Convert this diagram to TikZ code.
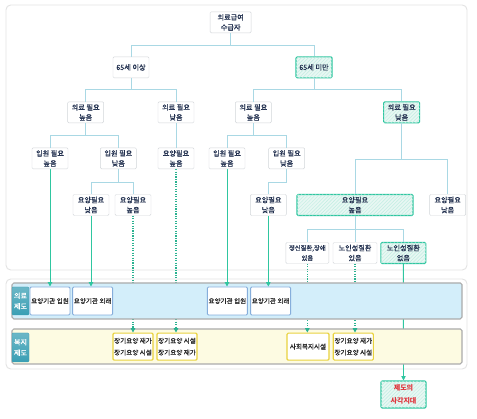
\documentclass[tikz,border=0pt]{standalone}
\usepackage{fontspec}
\setmainfont{Noto Sans CJK KR}
\newfontfamily\krtext{Noto Sans CJK KR}[FakeBold=0.6]
\usepackage{tikz}
\usetikzlibrary{calc}
\usetikzlibrary{positioning}
\usetikzlibrary{patterns}
\usetikzlibrary {arrows.meta}

\definecolor{branchblue}{HTML}{A9D8E4}
\definecolor{nodegray}{HTML}{D2D6DA}
\definecolor{textnavy}{HTML}{22304F}
\definecolor{mint}{HTML}{2FC6A0}
\definecolor{mintfill}{HTML}{E8F7F3}
\definecolor{panelgray}{HTML}{E3E3E3}
\definecolor{bandblue}{HTML}{D3EEFA}
\definecolor{bandyellow}{HTML}{FDFBE2}
\definecolor{bandedge}{HTML}{ABABAB}
\definecolor{labelteal}{HTML}{3A9FB4}
\definecolor{boxblue}{HTML}{86AEDB}
\definecolor{boxyellow}{HTML}{E9D23E}
\definecolor{gapred}{HTML}{E0323A}

\pgfdeclarelayer{panels}
\pgfdeclarelayer{wires}
\pgfdeclarelayer{bands}
\pgfsetlayers{panels,wires,bands,main}

\begin{document}
\begin{tikzpicture}[
    treenode/.style={rectangle, rounded corners=1pt, draw=nodegray, fill=white, text=textnavy, align=center,
        inner xsep=1.5pt, inner ysep=1pt, minimum width=1.08cm, minimum height=0.63cm,
        font=\krtext\fontsize{6.1}{8.6}\selectfont},
    hotnode/.style={treenode, draw=mint, line width=0.9pt, fill=mintfill,
        postaction={pattern=north east lines, pattern color=mint!30}},
    branch/.style={draw=branchblue, line width=0.6pt},
    feed/.style={draw=mint, line width=0.8pt},
    feeddot/.style={draw=mint!90!black, line width=1pt, dash pattern=on 1pt off 1.1pt},
    tip/.style={-{Triangle[length=1.3mm, width=1.3mm]}},
    panel/.style={draw=panelgray, fill=white, line width=0.8pt, rounded corners=4pt},
    band/.style={rectangle, inner sep=0pt, draw=bandedge, line width=0.9pt, rounded corners=1.5pt},
    bandlabel/.style={rectangle, rounded corners=1pt, top color=labelteal!75, bottom color=labelteal, draw=labelteal,
        text=white, align=center, inner sep=0.5pt, minimum width=0.51cm, font=\krtext\fontsize{6}{9}\selectfont},
    medbox/.style={rectangle, draw=boxblue, line width=0.8pt, fill=white, rounded corners=1pt, text=black!85,
        align=center, inner sep=1pt, minimum width=1.15cm, minimum height=0.84cm, font=\krtext\fontsize{5.6}{10}\selectfont},
    welbox/.style={medbox, draw=boxyellow, line width=1pt, minimum height=0.81cm}
]
    \useasboundingbox (0, 0) rectangle (14.31, 12.57);

    % Panels
    \begin{pgfonlayer}{panels}
        \draw [panel] (0.18, 4.47) rectangle (14.01, 12.42);
        \draw [panel] (0.18, 1.50) rectangle (14.01, 4.20);
    \end{pgfonlayer}

    % Medical aid recipients
    % - [Level 1]
    \node at (6.92, 11.90) [treenode, minimum width=1.23cm](recipient){의료급여\\수급자};
    % - [Level 2: age]
    \node at (3.93, 10.55) [treenode](age_over){65세 이상};
    \node at (9.42, 10.55) [hotnode](age_under){65세 미만};
    % - [Level 3: medical need]
    \node at (2.57, 9.20) [treenode](med_hi_a){의료 필요\\높음};
    \node at (5.28, 9.20) [treenode](med_lo_a){의료 필요\\낮음};
    \node at (7.60, 9.20) [treenode](med_hi_b){의료 필요\\높음};
    \node at (12.05, 9.20) [hotnode](med_lo_b){의료 필요\\낮음};
    % - [Level 4: admission need]
    \node at (1.50, 7.82) [treenode](adm_hi_a){입원 필요\\높음};
    \node at (3.55, 7.82) [treenode](adm_lo_a){입원 필요\\낮음};
    \node at (5.28, 7.82) [treenode](care_hi_a){요양필요\\높음};
    \node at (6.81, 7.82) [treenode](adm_hi_b){입원 필요\\높음};
    \node at (8.60, 7.82) [treenode](adm_lo_b){입원 필요\\낮음};
    % - [Level 5: care need]
    \node at (2.73, 6.42) [treenode](care_lo_a){요양필요\\낮음};
    \node at (3.99, 6.42) [treenode](care_hi_b){요양필요\\높음};
    \node at (8.05, 6.42) [treenode](care_lo_b){요양필요\\낮음};
    \node at (10.65, 6.42) [hotnode, minimum width=3.48cm](care_hi_c){요양필요\\높음};
    \node at (13.43, 6.42) [treenode](care_lo_c){요양필요\\낮음};
    % - [Level 6: illness]
    \node at (9.22, 4.98) [treenode, minimum width=1.29cm, font=\krtext\fontsize{5.4}{8.6}\selectfont](ill_mental){정신질환,장애\\있음};
    \node at (10.65, 4.98) [treenode, minimum width=1.32cm](ill_old){노인성질환\\있음};
    \node at (12.10, 4.98) [hotnode, minimum width=1.35cm](ill_none){노인성질환\\없음};

    % -- Branches of the tree
    \coordinate (split_root) at (6.92, 11.22);
    \draw [branch] (recipient.south) -- (split_root) -| (age_over.north);
    \draw [branch] (split_root) -| (age_under.north);
    \coordinate (split_over) at (3.93, 9.90);
    \draw [branch] (age_over.south) -- (split_over) -| (med_hi_a.north);
    \draw [branch] (split_over) -| (med_lo_a.north);
    \coordinate (split_under) at (9.42, 9.90);
    \draw [branch] (age_under.south) -- (split_under) -| (med_hi_b.north);
    \draw [branch] (split_under) -| (med_lo_b.north);
    \coordinate (split_med_a) at (2.57, 8.52);
    \draw [branch] (med_hi_a.south) -- (split_med_a) -| (adm_hi_a.north);
    \draw [branch] (split_med_a) -| (adm_lo_a.north);
    \draw [branch] (med_lo_a.south) -- (care_hi_a.north);
    \coordinate (split_med_b) at (7.60, 8.52);
    \draw [branch] (med_hi_b.south) -- (split_med_b) -| (adm_hi_b.north);
    \draw [branch] (split_med_b) -| (adm_lo_b.north);
    \coordinate (split_adm_a) at (3.55, 7.11);
    \draw [branch] (adm_lo_a.south) -- (split_adm_a) -| (care_lo_a.north);
    \draw [branch] (split_adm_a) -| (care_hi_b.north);
    \coordinate (split_adm_b) at (8.60, 7.11);
    \draw [branch] (adm_lo_b.south) -- (split_adm_b) -| (care_lo_b.north);
    \coordinate (split_med_c) at (12.05, 7.80);
    \draw [branch] (med_lo_b.south) -- (split_med_c) -| (care_hi_c.north);
    \draw [branch] (split_med_c) -| (care_lo_c.north);
    \coordinate (split_care_c) at (10.65, 5.70);
    \draw [branch] (care_hi_c.south) -- (split_care_c) -| (ill_mental.north);
    \draw [branch] (split_care_c) -| (ill_old.north);
    \draw [branch] (split_care_c) -| (ill_none.north);

    % Systems
    % - [Bands]
    \begin{pgfonlayer}{bands}
        \node at (7.11, 3.54) [band, fill=bandblue, minimum width=13.5cm, minimum height=1.08cm](band_med){};
        \node at (7.11, 2.175) [band, fill=bandyellow, minimum width=13.5cm, minimum height=1.05cm](band_wel){};
    \end{pgfonlayer}
    \node at (0.615, 3.54) [bandlabel, minimum height=0.84cm](label_med){의료\\제도};
    \node at (0.615, 2.145) [bandlabel, minimum height=0.87cm](label_wel){복지\\제도};
    % - [Medical institutions]
    \node at (1.50, 3.54) [medbox](inst_in_a){요양기관 입원};
    \node at (2.78, 3.54) [medbox](inst_out_a){요양기관 외래};
    \node at (6.82, 3.54) [medbox](inst_in_b){요양기관 입원};
    \node at (8.12, 3.54) [medbox](inst_out_b){요양기관 외래};
    % - [Welfare institutions]
    \node at (3.99, 2.17) [welbox](ltc_a){장기요양 재가\\장기요양 시설};
    \node at (5.31, 2.17) [welbox](ltc_b){장기요양 시설\\장기요양 재가};
    \node at (9.24, 2.17) [welbox, minimum width=1.26cm](welfare_fac){사회복지시설};
    \node at (10.60, 2.17) [welbox](ltc_c){장기요양 재가\\장기요양 시설};
    % - [Blind spot]
    \node at (12.105, 0.735) [hotnode, minimum width=1.35cm, minimum height=0.81cm, text=gapred,
        font=\bfseries\fontsize{6}{11}\selectfont](gap){제도의\\사각지대};

    % -- Paths down to the systems
    \begin{pgfonlayer}{wires}
        \draw [feed] (adm_hi_a.south) -- (adm_hi_a.south |- inst_in_a.north);
        \draw [feed] (care_lo_a.south) -- (care_lo_a.south |- inst_out_a.north);
        \draw [feed] (adm_hi_b.south) -- (adm_hi_b.south |- inst_in_b.north);
        \draw [feed] (care_lo_b.south) -- (care_lo_b.south |- inst_out_b.north);
        \draw [feed, tip] (ill_none.south) -- (gap.north);
        \draw [feeddot] (care_hi_b.south) -- (care_hi_b.south |- ltc_a.north);
        \draw [feeddot] (care_hi_a.south) -- (care_hi_a.south |- ltc_b.north);
        \draw [feeddot] (ill_mental.south) -- (ill_mental.south |- welfare_fac.north);
        \draw [feeddot] (ill_old.south) -- (ill_old.south |- ltc_c.north);
    \end{pgfonlayer}
    % -- Arrow tips over the bands
    \draw [feed, tip] (adm_hi_a.south |- band_med.north) -- (adm_hi_a.south |- inst_in_a.north);
    \draw [feed, tip] (care_lo_a.south |- band_med.north) -- (care_lo_a.south |- inst_out_a.north);
    \draw [feed, tip] (adm_hi_b.south |- band_med.north) -- (adm_hi_b.south |- inst_in_b.north);
    \draw [feed, tip] (care_lo_b.south |- band_med.north) -- (care_lo_b.south |- inst_out_b.north);
    \draw [feeddot, tip] (care_hi_b.south |- band_wel.north) -- (care_hi_b.south |- ltc_a.north);
    \draw [feeddot, tip] (care_hi_a.south |- band_wel.north) -- (care_hi_a.south |- ltc_b.north);
    \draw [feeddot, tip] (ill_mental.south |- band_wel.north) -- (ill_mental.south |- welfare_fac.north);
    \draw [feeddot, tip] (ill_old.south |- band_wel.north) -- (ill_old.south |- ltc_c.north);

\end{tikzpicture}
\end{document}
